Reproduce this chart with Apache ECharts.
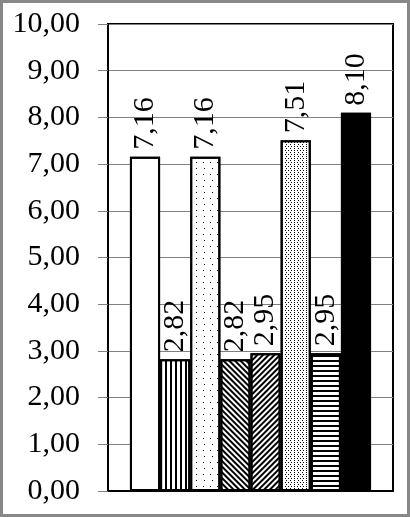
<!DOCTYPE html>
<html>
<head>
<meta charset="utf-8">
<script src="https://cdn.jsdelivr.net/npm/echarts@6/dist/echarts.min.js"></script>
<style>
html,body{margin:0;padding:0;background:#fff;}
#c{width:410px;height:517px;}
</style>
</head>
<body>
<div id="c"></div>
<script>
var categories = [''];
var seriesNames = ['S1','S2','S3','S4','S5','S6','S7','S8'];
var values = [7.16, 2.82, 7.16, 2.82, 2.95, 7.51, 2.95, 8.10];
var yTicks = [0,1,2,3,4,5,6,7,8,9,10];

var decals = [
  {symbol:'none'},
  {symbol:'rect', symbolSize:1, color:'#000', dashArrayX:[1.2,2.5], dashArrayY:[10,0]},
  {symbol:'rect', symbolSize:1, color:'#000', dashArrayX:[[1,6],[0,3.5,1,2.5]], dashArrayY:[1,4.3]},
  {symbol:'rect', symbolSize:1, color:'#000', dashArrayX:[10,0], dashArrayY:[1.2,1.6], rotation:Math.PI/4},
  {symbol:'rect', symbolSize:1, color:'#000', dashArrayX:[10,0], dashArrayY:[1.2,1.6], rotation:-Math.PI/4},
  {symbol:'rect', symbolSize:1, color:'#000', dashArrayX:[[1,2],[0,1.5,1,0.5]], dashArrayY:[1,1]},
  {symbol:'rect', symbolSize:1, color:'#000', dashArrayX:[10,0], dashArrayY:[1.2,2.6]},
  {symbol:'none'}
];
var fills = ['#fff','#fff','#fff','#fff','#fff','#fff','#fff','#000'];

function fmt(v){ return v.toFixed(2).replace('.', ','); }

var series = seriesNames.map(function(n,i){
  return {
    name:n, type:'bar', data:[values[i]],
    barGap:'0%', barCategoryGap:'15.4%',
    itemStyle:{color:fills[i], borderColor:'#000', borderWidth:2, decal:decals[i]},
    label:{show:true, position:'top', rotate:90, align:'left', verticalAlign:'middle', distance:7,
      formatter:function(p){return fmt(p.value);},
      fontFamily:'Liberation Serif', fontSize:30, color:'#000'}
  };
});

var chart = echarts.init(document.getElementById('c'));
chart.setOption({
  animation:false,
  grid:{left:108, right:17, top:24, bottom:26, show:true, borderColor:'#000', borderWidth:2},
  xAxis:{type:'category', data:categories, axisLine:{show:true, lineStyle:{color:'#000', width:2}}, axisTick:{show:false}, axisLabel:{show:false}},
  yAxis:{type:'value', min:0, max:10, interval:1,
    axisLine:{show:true, lineStyle:{color:'#000', width:2}},
    axisTick:{show:true, length:10, lineStyle:{color:'#808080', width:1}},
    axisLabel:{margin:28, fontFamily:'Liberation Serif', fontSize:30, color:'#000',
      formatter:function(v){return fmt(v);}},
    splitLine:{show:true, lineStyle:{color:'#808080', width:1}}},
  graphic:[{type:'rect', shape:{x:1.5, y:1.5, width:407, height:514}, style:{fill:'none', stroke:'#888', lineWidth:3}, silent:true}],
  series:series
});
</script>
</body>
</html>
